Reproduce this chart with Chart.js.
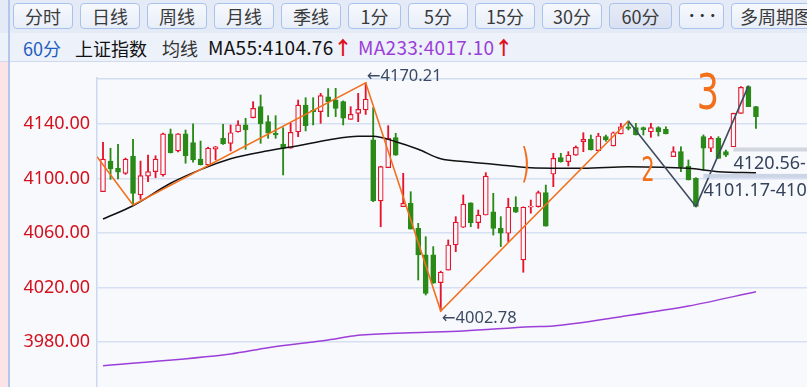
<!DOCTYPE html>
<html><head><meta charset="utf-8">
<script src="https://cdn.jsdelivr.net/npm/chart.js@4.4.1/dist/chart.umd.min.js"></script>
<style>
html,body{margin:0;padding:0;}
body{width:807px;height:387px;overflow:hidden;position:relative;background:#f8f9fd;font-family:"Noto Sans CJK SC","Noto Sans",sans-serif;}
#hdr1{position:absolute;left:0;top:0;width:807px;height:33px;background:#e5ebf6;}
#hdr2{position:absolute;left:0;top:33px;width:807px;height:28px;background:#edf1f9;border-bottom:1.5px solid #d0daec;}
#strip{position:absolute;left:0;top:62px;width:8px;height:325px;background:#fbe3e6;}
#vline{position:absolute;left:8px;top:0;width:2px;height:387px;background:#b2c7ea;z-index:5;}
.btn{position:absolute;top:3px;height:24px;border:1.5px solid #a9c3ec;border-radius:4px;background:linear-gradient(#f6f8fd,#e8eef8);font-size:18px;line-height:24px;text-align:center;color:#3a3a3a;white-space:nowrap;overflow:hidden;}
.btn.sel{background:linear-gradient(#e6ebf6,#d9e0f1);}
.t{position:absolute;top:37px;font-size:18px;line-height:22px;white-space:nowrap;}
.ma{font-size:19px;letter-spacing:0.3px;top:36px;}
#c{position:absolute;left:0;top:62px;}
</style>
</head><body>
<div id="hdr1"></div><div id="hdr2"></div><div id="strip"></div><div id="vline"></div>
<div class="btn" style="left:13px;width:58px">分时</div>
<div class="btn" style="left:80px;width:58px">日线</div>
<div class="btn" style="left:147px;width:58px">周线</div>
<div class="btn" style="left:214px;width:58px">月线</div>
<div class="btn" style="left:281px;width:58px">季线</div>
<div class="btn" style="left:348px;width:51px">1分</div>
<div class="btn" style="left:408px;width:58px">5分</div>
<div class="btn" style="left:475px;width:58px">15分</div>
<div class="btn" style="left:542px;width:58px">30分</div>
<div class="btn sel" style="left:609px;width:61px">60分</div>
<div class="btn" style="left:679px;width:43px;font-size:12px;font-weight:bold;letter-spacing:-1.5px;color:#333">•••</div>
<div class="btn" style="left:731px;width:100px;text-align:left;padding-left:8px">多周期图</div>
<span class="t" style="left:23px;color:#1f5cbf">60分</span>
<span class="t" style="left:75px;color:#111">上证指数</span>
<span class="t" style="left:162px;color:#333">均线</span>
<span class="t ma" style="left:208px;color:#111">MA55:4104.76<span style="color:#e0101e;font-weight:bold;letter-spacing:0">↑</span></span>
<span class="t ma" style="left:358px;color:#9b3fd8">MA233:4017.10<span style="color:#e0101e;font-weight:bold;letter-spacing:0">↑</span></span>
<canvas id="c" width="807" height="325"></canvas>
<script>
// ---- data ----
const candleNo = [1,2,3,4,5,6,7,8,9,10,11,12,13,14,15,16,17,18,19,20,21,22,23,24,25,26,27,28,29,30,31,32,33,34,35,36,37,38,39,40,41,42,43,44,45,46,47,48,49,50,51,52,53,54,55,56,57,58,59,60,61,62,63,64,65,66,67,68,69,70,71,72,73,74,75,76,77,78,79,80,81,82,83,84,85,86,87,88];
const opens  = [4090.3,4112.8,4107.5,4103.8,4116.5,4087.9,4101.8,4105.0,4102.6,4132.7,4120.2,4132.7,4126.3,4114.3,4110.0,4121.6,4129.5,4125.8,4134.3,4139.3,4144.6,4152.7,4141.7,4133.2,4125.3,4122.2,4134.3,4153.9,4150.0,4149.0,4160.0,4157.6,4156.4,4143.4,4147.8,4150.3,4128.3,4083.5,4107.9,4130.0,4079.3,4081.8,4063.4,4043.9,4043.9,4023.5,4032.8,4051.2,4064.2,4082.2,4067.6,4073.2,4075.6,4063.4,4059.8,4078.9,4040.2,4078.9,4079.3,4089.6,4103.3,4115.3,4112.3,4117.2,4127.0,4128.8,4120.4,4130.7,4123.9,4132.7,4138.0,4137.3,4137.3,4134.3,4137.3,4136.1,4116.0,4119.7,4109.2,4100.1,4130.7,4122.2,4129.5,4119.7,4123.3,4147.8,4167.4,4152.7];
const highs  = [4126.6,4122.2,4125.1,4115.0,4128.8,4112.8,4117.2,4116.7,4133.4,4136.3,4133.0,4135.6,4140.2,4127.5,4123.0,4123.6,4139.8,4139.3,4142.4,4144.2,4156.4,4161.3,4146.1,4146.1,4137.3,4140.5,4157.6,4159.3,4159.3,4162.5,4166.0,4166.2,4157.0,4152.7,4162.5,4170.21,4152.0,4109.0,4138.8,4133.2,4103.8,4090.3,4067.1,4057.3,4050.0,4032.0,4054.9,4072.0,4087.9,4082.2,4076.9,4104.3,4089.1,4072.0,4085.5,4086.6,4079.2,4084.2,4090.8,4095.2,4118.5,4118.5,4119.7,4123.9,4133.6,4131.9,4133.2,4131.9,4134.1,4140.5,4142.2,4140.5,4137.8,4140.5,4138.0,4138.0,4123.3,4123.3,4113.6,4100.6,4132.0,4130.7,4130.7,4120.9,4148.0,4167.4,4168.0,4153.0];
const lows   = [4090.3,4099.4,4099.6,4103.0,4080.6,4084.7,4097.7,4100.6,4101.8,4118.7,4119.5,4111.2,4112.0,4109.9,4109.0,4113.6,4125.0,4120.2,4134.0,4121.4,4144.4,4125.8,4129.5,4129.5,4102.6,4122.2,4130.7,4134.9,4139.3,4140.5,4145.4,4145.4,4139.3,4143.4,4141.7,4147.0,4083.0,4064.6,4107.9,4117.0,4079.3,4062.9,4025.5,4014.5,4023.0,4002.78,4032.8,4046.3,4064.0,4064.6,4063.4,4073.2,4058.5,4050.0,4053.6,4075.0,4031.2,4074.5,4079.0,4065.0,4094.0,4112.0,4109.2,4117.0,4119.7,4120.9,4120.4,4127.3,4123.9,4132.7,4135.6,4131.9,4131.9,4130.2,4131.2,4132.7,4116.0,4105.0,4098.9,4079.5,4106.2,4119.7,4114.8,4116.0,4123.3,4147.8,4152.7,4136.8];
const closes = [4114.3,4107.0,4104.6,4114.3,4089.1,4102.1,4105.0,4114.3,4132.7,4118.9,4132.7,4116.7,4113.6,4110.0,4122.2,4123.3,4125.3,4133.6,4139.3,4135.6,4151.5,4140.0,4133.2,4131.9,4122.2,4133.9,4153.9,4138.8,4149.0,4160.8,4156.4,4151.5,4144.2,4147.1,4150.8,4158.3,4083.5,4108.7,4129.5,4117.2,4081.8,4062.9,4043.9,4015.7,4023.1,4031.2,4051.2,4067.9,4081.1,4067.6,4073.2,4101.8,4063.4,4059.8,4078.9,4075.2,4078.9,4079.8,4089.6,4065.1,4114.8,4112.3,4117.2,4122.9,4128.8,4120.9,4131.2,4128.3,4133.6,4138.0,4136.8,4131.9,4135.6,4137.3,4134.3,4132.7,4119.7,4108.7,4098.9,4079.5,4122.2,4129.5,4114.8,4117.2,4147.8,4166.9,4152.7,4145.4];

const ma55At  = [1,5,10,14,18,23,27,31,35,37,40,43,46,49,53,58,65,71,79,83,88];
const ma55    = [4070.3,4080.0,4096.5,4106.5,4114.5,4120.3,4124.0,4128.3,4131.0,4131.0,4127.0,4121.5,4114.5,4112.5,4110.5,4107.9,4107.5,4108.7,4107.5,4105.0,4104.3];
const ma233At = [1,18,23,31,35,42,49,58,61,70,79,88];
const ma233   = [3962.6,3971.2,3975.8,3981.5,3984.9,3986.8,3988.1,3991.2,3991.8,3998.6,4006.4,4016.9];
const waveAt  = [0.2,5,36,46,71];
const wave    = [4116.0,4080.6,4170.21,4002.78,4142.2];
const wave2At = [71,80,87];
const wave2   = [4142.2,4079.5,4168.0];
const yTicks  = [3980,4020,4060,4100,4140];
const peakNo = 36, peakVal = 4170.21, lowNo = 46, lowVal = 4002.78;
const marks = [{from:85, price:4120.56, text:'4120.56-'},{from:81, price:4101.17, text:'4101.17-410'}];
const handNotes = [{at:57.3, price:4108.5, text:')', size:40, sx:0.55},{at:73.6, price:4105.0, text:'2', size:34, sx:0.62},{at:81.6, price:4160.5, text:'3', size:50, sx:0.7}];

// ---- chart ----
const RED='#e5142b', GREEN='#2a8a18', BG='#f8f9fd', ORANGE='#f2701c';
const up = closes.map((c,i)=>c>=opens[i]);
const pts = (xs,ys)=>xs.map((x,i)=>({x, y:ys[i]}));

const annot = {
  id:'annot',
  beforeDatasetsDraw(chart){
    const {ctx, chartArea:ca} = chart;
    ctx.save();
    ctx.strokeStyle='#d0dcf0'; ctx.lineWidth=1.5;
    ctx.beginPath(); ctx.moveTo(ca.left, ca.top+0.75); ctx.lineTo(ca.right, ca.top+0.75); ctx.stroke();
    ctx.restore();
  },
  afterDatasetsDraw(chart){
    const {ctx, scales:{x,y}, chartArea:ca} = chart;
    ctx.save();
    ctx.fillStyle='#3b4a62'; ctx.textAlign='left'; ctx.textBaseline='middle';
    ctx.font='16.5px "Noto Sans","DejaVu Sans"';
    ctx.fillText('←'+peakVal.toFixed(2), x.getPixelForValue(peakNo)+1, y.getPixelForValue(peakVal)-6.5);
    ctx.fillText('←'+lowVal.toFixed(2), x.getPixelForValue(lowNo)+1, y.getPixelForValue(lowVal)+7);
    marks.forEach((m,k)=>{
      const px = x.getPixelForValue(m.from), py = y.getPixelForValue(m.price);
      ctx.fillStyle = k===0 ? 'rgba(205,210,218,0.9)' : 'rgba(196,207,225,0.85)';
      ctx.fillRect(px, py-3, ca.right-px, 4);
      ctx.fillStyle='#34435a'; ctx.font='18px "Noto Sans","DejaVu Sans"';
      ctx.fillText(m.text, px, py+13.5);
    });
    handNotes.forEach(h=>{
      const px = x.getPixelForValue(h.at), py = y.getPixelForValue(h.price);
      ctx.save(); ctx.translate(px, py); ctx.scale(h.sx, 1);
      ctx.fillStyle=ORANGE; ctx.textAlign='center'; ctx.textBaseline='middle';
      ctx.font = h.size+'px "DejaVu Sans"';
      ctx.fillText(h.text, 0, 0);
      ctx.restore();
    });
    ctx.restore();
  }
};

new Chart(document.getElementById('c'), {
  type:'bar',
  data:{datasets:[
    {type:'line', data:pts(ma55At,ma55), borderColor:'#111111', borderWidth:1.5, pointRadius:0, cubicInterpolationMode:'monotone', order:0},
    {type:'line', data:pts(ma233At,ma233), borderColor:'#9b3fd8', borderWidth:1.5, pointRadius:0, cubicInterpolationMode:'monotone', order:0},
    {type:'line', data:pts(waveAt,wave), borderColor:ORANGE, borderWidth:1.6, pointRadius:0, tension:0, order:-1},
    {type:'line', data:pts(wave2At,wave2), borderColor:'#3e4b5e', borderWidth:1.6, pointRadius:0, tension:0, order:-1},
    {data:candleNo.map((n,i)=>({x:n, y:[opens[i], closes[i]]})), backgroundColor:up.map(u=>u?BG:GREEN), borderColor:up.map(u=>u?RED:GREEN), borderWidth:1.2, borderSkipped:false, barThickness:5, grouped:false, order:1},
    {data:candleNo.map((n,i)=>({x:n, y:[lows[i], highs[i]]})), backgroundColor:up.map(u=>u?RED:GREEN), borderWidth:0, barThickness:1.2, grouped:false, order:2}
  ]},
  options:{
    responsive:false, animation:false, devicePixelRatio:1,
    layout:{padding:{top:16,left:0,right:0,bottom:0}},
    plugins:{legend:{display:false}, tooltip:{enabled:false}},
    scales:{
      x:{type:'linear', min:0.2, max:94.8, display:false, offset:false, grid:{display:false}},
      y:{type:'linear', position:'left', min:3946.97, max:4173.76,
         afterFit(s){ s.width=97; s.paddingTop=0; s.paddingBottom=0; },
         afterBuildTicks(s){ s.ticks = yTicks.map(v=>({value:v})); },
         ticks:{padding:7, color:'#d3111c', font:{family:'"Noto Sans"', size:18}, callback:v=>Number(v).toFixed(2)},
         grid:{color:'#d5e0f2', lineWidth:1.5, drawTicks:false},
         border:{color:'#cbd9f0', width:1.5}}
    }
  },
  plugins:[annot]
});
</script>
</body></html>
